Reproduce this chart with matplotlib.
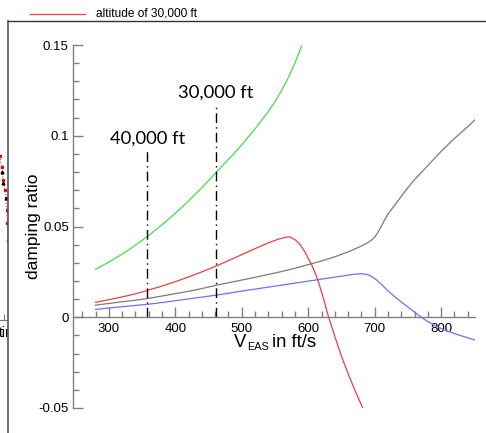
import matplotlib
matplotlib.use("Agg")
import matplotlib.pyplot as plt
from matplotlib.lines import Line2D
from matplotlib.patches import Rectangle
from matplotlib.ticker import MultipleLocator

plt.rcParams['font.family'] = ['Liberation Sans', 'DejaVu Sans']

# ---------------- data ----------------
green_v = [280, 300, 320, 340, 360, 380, 400, 420, 440, 460, 480, 500, 520, 540, 550, 560, 570, 580, 590]
green_d = [0.0264, 0.0304, 0.0348, 0.0397, 0.0451, 0.0510, 0.0573, 0.0641, 0.0714, 0.0792, 0.0870,
           0.0950, 0.1038, 0.1134, 0.1188, 0.1250, 0.1320, 0.1400, 0.1495]

red_v = [280, 300, 320, 340, 360, 380, 400, 420, 440, 460, 480, 500, 520, 540, 555, 565, 572,
         580, 588, 595, 600, 605, 610, 615, 622, 630, 640, 650, 660, 670, 682]
red_d = [0.0082, 0.0097, 0.0112, 0.0129, 0.0150, 0.0172, 0.0196, 0.0222, 0.0250, 0.0280, 0.0312,
         0.0345, 0.0378, 0.0410, 0.0430, 0.0440, 0.0443, 0.0428, 0.0400, 0.0360, 0.0325, 0.0290,
         0.0248, 0.0200, 0.0115, 0.0010, -0.0105, -0.0215, -0.0310, -0.0400, -0.0500]

grey_v = [280, 300, 320, 340, 360, 380, 400, 420, 440, 460, 480, 500, 520, 540, 560, 580, 600,
          620, 640, 660, 680, 690, 695, 700, 705, 710, 715, 720, 730, 740, 750, 760, 770, 780,
          800, 820, 840, 851]
grey_d = [0.0067, 0.0076, 0.0085, 0.0094, 0.0104, 0.0117, 0.0130, 0.0143, 0.0158, 0.0175, 0.0190,
          0.0205, 0.0220, 0.0236, 0.0252, 0.0270, 0.0290, 0.0310, 0.0333, 0.0360, 0.0392, 0.0412,
          0.0424, 0.0441, 0.0468, 0.0502, 0.0536, 0.0568, 0.0617, 0.0666, 0.0714, 0.0758, 0.0797,
          0.0836, 0.0914, 0.0985, 0.1050, 0.1088]

blue_v = [280, 300, 320, 340, 360, 380, 400, 420, 440, 460, 480, 500, 520, 540, 560, 580, 600,
          620, 640, 660, 672, 680, 688, 695, 702, 710, 720, 730, 740, 750, 760, 770, 780, 790, 800,
          810, 820, 830, 840, 851]
blue_d = [0.0043, 0.0051, 0.0058, 0.0065, 0.0072, 0.0081, 0.0091, 0.0101, 0.0111, 0.0121, 0.0132,
          0.0144, 0.0155, 0.0166, 0.0177, 0.0188, 0.0199, 0.0210, 0.0221, 0.0232, 0.0238, 0.0240,
          0.0236, 0.0226, 0.0208, 0.0182, 0.0145, 0.0114, 0.0084, 0.0056, 0.0028, 0.0001, -0.0024,
          -0.0044, -0.0062, -0.0077, -0.0090, -0.0102, -0.0113, -0.0126]

marker_v = [358, 461]
marker_top = [0.0918, 0.1170]
marker_labels = ["40,000 ft", "30,000 ft"]
marker_label_y = [0.0985, 0.1240]

legend_label = "altitude of 30,000 ft"

# left (cropped) neighbouring panel fragment
left_x = [92, 93.5, 95, 97, 98.7, 99.3, 100]
left_red = [0.91, 0.85, 0.78, 0.72, 0.61, 0.54, 0.44]
left_blk_x = [93.7, 95.3, 98]
left_blk = [0.82, 0.76, 0.68]
left_xlabel = "time"

# ---------------- figure ----------------
W, H = 486, 433
fig = plt.figure(figsize=(W / 100, H / 100), dpi=100)

def px(x0, y0, x1, y1):
    return [x0 / W, 1 - y1 / H, (x1 - x0) / W, (y1 - y0) / H]

# left fragment axes
axl = fig.add_axes(px(-92, 140, 8, 320), zorder=0)
axl.plot(left_x, left_red, color='#e03030', lw=0.8, ls=':', marker='o', ms=1.6, mec='#d01010', mfc='#d01010')
axl.plot(left_blk_x, left_blk, color='black', lw=0, marker='^', ms=2)
axl.set_xlim(0, 100)
axl.set_ylim(0, 1)
for s in ['top', 'right', 'left']:
    axl.spines[s].set_visible(False)
axl.spines['bottom'].set_color('#777777')
axl.set_yticks([])
axl.set_xticks([96])
axl.set_xticklabels([''])
axl.tick_params(axis='x', direction='in', length=4, color='#777777')
axl.text(0.91, -0.035, left_xlabel, transform=axl.transAxes, fontsize=10, ha='left', va='top')

# white panel covering left fragment overflow
fig.add_artist(Rectangle((8 / W, 0), 1 - 8 / W, 1 - 21 / H, transform=fig.transFigure,
                         facecolor='white', edgecolor='none', zorder=0.5))
fig.add_artist(Line2D([8 / W, 8 / W], [0, 1 - 21 / H], transform=fig.transFigure,
                      color='#555555', lw=1.2, zorder=3))
fig.add_artist(Line2D([8 / W, 1], [1 - 21 / H, 1 - 21 / H], transform=fig.transFigure,
                      color='#333333', lw=1.0, zorder=3))

# legend fragment
fig.add_artist(Line2D([30 / W, 85 / W], [1 - 14 / H, 1 - 14 / H], transform=fig.transFigure,
                      color='#e84848', lw=0.9, zorder=3))
fig.text(96 / W, 1 - 14 / H, legend_label, fontsize=8.6, va='center', ha='left', zorder=3)

# main axes
ax = fig.add_axes(px(73, 45, 475, 408), zorder=1)
ax.patch.set_alpha(0)
lw = 0.9
ax.plot(green_v, green_d, color='#4cd84c', lw=lw)
ax.plot(grey_v, grey_d, color='#7a7a7a', lw=lw)
ax.plot(blue_v, blue_d, color='#6e6eff', lw=lw)
ax.plot(red_v, red_d, color='#e84040', lw=lw)

for v, top, lab, ly in zip(marker_v, marker_top, marker_labels, marker_label_y):
    ax.plot([v, v], [0, top], color='black', lw=1.0, ls=(0, (7, 3, 1, 3)))
    ax.text(v, ly, lab, ha='center', va='center', fontsize=13.3, family=['Lato', 'DejaVu Sans'])

ax.set_xlim(246, 851)
ax.set_ylim(-0.05, 0.15)
ax.spines['top'].set_visible(False)
ax.spines['right'].set_visible(False)
ax.spines['bottom'].set_position(('data', 0))
for s in ['left', 'bottom']:
    ax.spines[s].set_color('#808080')
    ax.spines[s].set_linewidth(1.0)

ax.xaxis.set_major_locator(MultipleLocator(100))
ax.xaxis.set_minor_locator(MultipleLocator(20))
ax.yaxis.set_major_locator(MultipleLocator(0.05))
ax.yaxis.set_minor_locator(MultipleLocator(0.01))
ax.set_xticks([300, 400, 500, 600, 700, 800])
ax.set_yticks([-0.05, 0, 0.05, 0.1, 0.15])
ax.set_yticklabels(['-0.05', '0', '0.05', '0.1', '0.15'])
ax.tick_params(which='major', direction='in', length=7, width=1.0, color='#808080',
               labelsize=9.5, pad=3)
ax.tick_params(which='minor', direction='in', length=4, width=1.0, color='#808080')
ax.tick_params(axis='x', which='major', pad=4)

ax.set_ylabel('damping ratio', fontsize=12.5)
ax.yaxis.set_label_coords(-0.08, 0.5)

# x label: "V" with small "EAS" subscript, then "in ft/s"
tv = ax.text(0.4005, 0.168, 'V', transform=ax.transAxes, fontsize=13.3, ha='left', va='baseline')
ts = ax.annotate('EAS', xy=(1, 0), xycoords=tv, xytext=(0.8, 0.6), textcoords='offset points',
                 fontsize=7.8, ha='left', va='baseline')
ax.annotate('in ft/s', xy=(1, 0), xycoords=(ts, tv), xytext=(2.0, 0), textcoords='offset points',
            fontsize=13.3, ha='left', va='bottom')

fig.savefig('out.png', dpi=100)
